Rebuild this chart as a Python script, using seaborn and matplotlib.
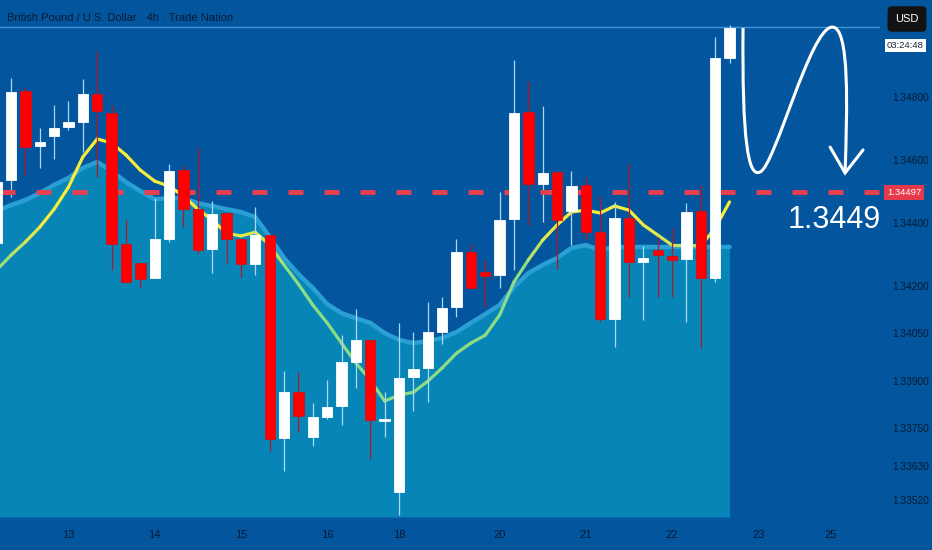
import numpy as np
import seaborn as sns
import matplotlib.pyplot as plt
from matplotlib.collections import LineCollection
from matplotlib.path import Path
from matplotlib.patches import PathPatch
import matplotlib.transforms as mtransforms

# GBPUSD 4h candles (index = candle number)
opens = [1.34337, 1.34537, 1.34819, 1.34644, 1.34676, 1.34705, 1.34721, 1.34810, 1.34749, 1.34333,
         1.34273, 1.34225, 1.34349, 1.34568, 1.34444, 1.34317, 1.34432, 1.34349, 1.34270, 1.34362,
         1.33717, 1.33863, 1.33721, 1.33784, 1.33819, 1.33959, 1.34029, 1.33771, 1.33546, 1.33911,
         1.33940, 1.34054, 1.34133, 1.34308, 1.34244, 1.34235, 1.34413, 1.34752, 1.34524, 1.34562,
         1.34438, 1.34521, 1.34371, 1.34095, 1.34416, 1.34276, 1.34314, 1.34295, 1.34286, 1.34438,
         1.34225, 1.34924]
highs = [1.34552, 1.34860, 1.34832, 1.34702, 1.34775, 1.34787, 1.34857, 1.34946, 1.34775, 1.34410,
         1.34273, 1.34479, 1.34587, 1.34584, 1.34641, 1.34470, 1.34432, 1.34349, 1.34451, 1.34362,
         1.33930, 1.33927, 1.33829, 1.33902, 1.34044, 1.34127, 1.34029, 1.33863, 1.34083, 1.34054,
         1.34149, 1.34165, 1.34349, 1.34333, 1.34283, 1.34498, 1.34917, 1.34851, 1.34771, 1.34562,
         1.34565, 1.34546, 1.34486, 1.34467, 1.34590, 1.34327, 1.34356, 1.34384, 1.34463, 1.34521,
         1.34990, 1.35029]
lows = [1.34314, 1.34483, 1.34552, 1.34575, 1.34603, 1.34695, 1.34625, 1.34546, 1.34251, 1.34210,
        1.34194, 1.34225, 1.34340, 1.34387, 1.34305, 1.34241, 1.34273, 1.34229, 1.34235, 1.33676,
        1.33613, 1.33737, 1.33692, 1.33778, 1.33759, 1.33876, 1.33651, 1.33721, 1.33473, 1.33803,
        1.33832, 1.34016, 1.34102, 1.34194, 1.34133, 1.34194, 1.34251, 1.34394, 1.34403, 1.34254,
        1.34330, 1.34346, 1.34086, 1.34006, 1.34165, 1.34092, 1.34165, 1.34165, 1.34086, 1.34003,
        1.34213, 1.34908]
closes = [1.34530, 1.34816, 1.34641, 1.34657, 1.34702, 1.34721, 1.34810, 1.34756, 1.34333, 1.34213,
          1.34222, 1.34349, 1.34565, 1.34444, 1.34314, 1.34429, 1.34349, 1.34270, 1.34362, 1.33714,
          1.33863, 1.33787, 1.33784, 1.33816, 1.33959, 1.34029, 1.33775, 1.33778, 1.33908, 1.33937,
          1.34054, 1.34130, 1.34308, 1.34194, 1.34232, 1.34410, 1.34749, 1.34524, 1.34559, 1.34410,
          1.34517, 1.34371, 1.34095, 1.34416, 1.34276, 1.34289, 1.34298, 1.34283, 1.34435, 1.34225,
          1.34924, 1.35019]

# moving average line and the top of the shaded band
ma_values = [1.34251, 1.34298, 1.34340, 1.34387, 1.34444, 1.34514, 1.34610, 1.34667, 1.34654, 1.34616,
             1.34568, 1.34533, 1.34517, 1.34486, 1.34444, 1.34410, 1.34368, 1.34359, 1.34371, 1.34330,
             1.34267, 1.34206, 1.34140, 1.34083, 1.34019, 1.33956, 1.33902, 1.33835, 1.33854, 1.33863,
             1.33898, 1.33940, 1.33987, 1.34019, 1.34044, 1.34108, 1.34213, 1.34283, 1.34346, 1.34394,
             1.34435, 1.34441, 1.34432, 1.34454, 1.34441, 1.34394, 1.34362, 1.34330, 1.34330, 1.34327,
             1.34384, 1.34467]
band_top = [1.34438, 1.34457, 1.34473, 1.34495, 1.34521, 1.34543, 1.34575, 1.34594, 1.34565, 1.34530,
            1.34502, 1.34476, 1.34479, 1.34479, 1.34463, 1.34454, 1.34444, 1.34435, 1.34419, 1.34356,
            1.34289, 1.34238, 1.34194, 1.34143, 1.34114, 1.34098, 1.34083, 1.34051, 1.34029, 1.34019,
            1.34025, 1.34035, 1.34054, 1.34083, 1.34111, 1.34140, 1.34197, 1.34241, 1.34267, 1.34289,
            1.34321, 1.34330, 1.34314, 1.34324, 1.34324, 1.34324, 1.34324, 1.34324, 1.34324, 1.34324,
            1.34324, 1.34324]

day_ticks = [5, 11, 17, 23, 28, 35, 41, 47, 53, 58]
day_labels = ["13", "14", "15", "16", "18", "20", "21", "22", "23", "25"]
price_ticks = [1.33520, 1.33630, 1.33750, 1.33900, 1.34050, 1.34200, 1.34400, 1.34600, 1.34800]
level = 1.34497
top_line = 1.35022
target_text = "1.3449"

BG = "#03569d"
sns.set_theme(style="dark", rc={"axes.facecolor": BG, "figure.facecolor": BG})
plt.rcParams["font.family"] = ["Liberation Sans", "DejaVu Sans"]

fig = plt.figure(figsize=(9.32, 5.5), dpi=100)
ax = fig.add_axes([0, 33 / 550, 880 / 932, 517 / 550])
ax.set_facecolor(BG)

x = np.arange(len(opens))
o = np.array(opens); h = np.array(highs); l = np.array(lows); c = np.array(closes)
up = c >= o
y_bottom = 1.33467
y_top = 1.35108

# shaded band
ax.fill_between(x, band_top, y_bottom, color="#0785b6", zorder=0.5, lw=0)
sns.lineplot(x=x, y=band_top, color="#2a9fd4", lw=3.2, ax=ax, zorder=0.6)

# moving average, coloured from green (low) to yellow (high)
pts = np.column_stack([x, ma_values])
segs = np.stack([pts[:-1], pts[1:]], axis=1)
mids = (np.array(ma_values[:-1]) + np.array(ma_values[1:])) / 2
t = np.clip((mids - 1.3425) / 0.0015, 0, 1)
green = np.array([0.55, 0.86, 0.52]); yellow = np.array([0.97, 0.92, 0.24])
cols = green[None, :] * (1 - t[:, None]) + yellow[None, :] * t[:, None]
ax.add_collection(LineCollection(segs, colors=cols, linewidths=2.3, zorder=1.5, capstyle="round"))

# candles
wick_cols = np.where(up, "#a8daf5", "#b01828")
ax.vlines(x, l, h, colors=wick_cols, lw=0.9, zorder=2)
body_cols = np.where(up, "#ffffff", "#ff0000")
ax.bar(x, np.abs(c - o), bottom=np.minimum(o, c), width=0.72, color=body_cols,
       edgecolor=np.where(up, "#ffffff", "#d0101a"), linewidth=0.6, zorder=3)

# levels
ax.axhline(level, color="#e5404f", lw=3.6, dashes=(3, 4.2), zorder=2.5)
ax.axhline(top_line, color="#3e97d2", lw=1, zorder=1)

# hand-drawn projection arrow
verts = [(51.94, 1.35019), (51.87, 1.34663), (52.29, 1.34543), (53.12, 1.34562),
         (54.17, 1.34581), (56.60, 1.35019), (58.13, 1.35022),
         (59.39, 1.35025), (59.18, 1.34759), (59.04, 1.34559)]
codes = [Path.MOVETO] + [Path.CURVE4] * 9
ax.add_patch(PathPatch(Path(verts, codes), fc="none", ec="white", lw=2.2, zorder=4))
ax.plot([58.0, 59.04, 60.29], [1.34641, 1.34559, 1.34632], color="white", lw=2.2,
        solid_joinstyle="miter", zorder=4)
ax.text(58.27, 1.34410, target_text, color="white", fontsize=22, ha="center", va="center", zorder=4)

ax.set_xlim(0.2345, 61.47)
ax.set_ylim(y_bottom, y_top)
for s in ax.spines.values():
    s.set_visible(False)
ax.grid(False)

tick_col = "#081a33"
ax.yaxis.tick_right()
ax.set_yticks(price_ticks)
ax.set_yticklabels([f"{p:.5f}" for p in price_ticks])
ax.tick_params(axis="y", length=0, pad=9, labelsize=7.3, labelcolor=tick_col)
ax.set_xticks(day_ticks)
ax.set_xticklabels(day_labels)
ax.tick_params(axis="x", length=0, pad=9, labelsize=8, labelcolor=tick_col)
ax.set_xlabel(""); ax.set_ylabel("")

# header and price badges
fig.text(7 / 932, 1 - 18 / 550, "British Pound / U.S. Dollar \u00b7 4h \u00b7 Trade Nation",
         color=tick_col, fontsize=8, va="center", ha="left")
trans = mtransforms.blended_transform_factory(ax.transAxes, ax.transData)
ax.text(1.0 + 24 / 880, level, f"{level:.5f}", transform=trans, color="white", fontsize=6.8,
        ha="center", va="center", clip_on=False,
        bbox=dict(boxstyle="square,pad=0.35", fc="#e63a4c", ec="none"))
fig.text(907 / 932, 1 - 19 / 550, "USD", color="white", fontsize=8, ha="center", va="center",
         bbox=dict(boxstyle="round,pad=0.7,rounding_size=0.4", fc="#121212", ec="none"))
fig.text(905.5 / 932, 1 - 45.5 / 550, "03:24:48", color="#1a2536", fontsize=6.8, ha="center",
         va="center", bbox=dict(boxstyle="square,pad=0.2", fc="white", ec="none"))

fig.savefig("out.png", dpi=100, facecolor=BG)
